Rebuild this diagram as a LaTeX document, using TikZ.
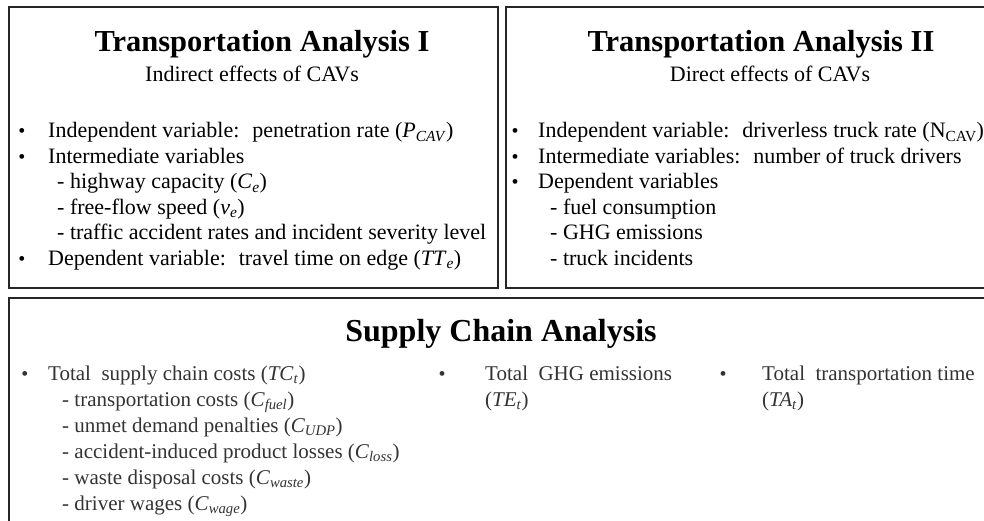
\documentclass[tikz,border=0pt]{standalone}
\usepackage{fontspec}
\setmainfont{Liberation Serif}
\begin{document}
\begin{tikzpicture}[x=1pt,y=-1pt,
  box/.style={draw=black!85, line width=1.6pt},
  ttl/.style={font=\fontsize{30.5}{36}\selectfont\bfseries, anchor=base, inner sep=0pt},
  subttl/.style={font=\fontsize{22}{26}\selectfont, anchor=base, inner sep=0pt},
  txt/.style={font=\fontsize{22}{26}\selectfont, anchor=base west, inner sep=0pt},
  btxt/.style={font=\fontsize{21}{25}\selectfont, anchor=base west, inner sep=0pt, text=black!80},
  bul/.style={font=\fontsize{20}{24}\selectfont, anchor=base, inner sep=0pt},
  bbul/.style={font=\fontsize{20}{24}\selectfont, anchor=base, inner sep=0pt, text=black!80}]
\useasboundingbox (0,0) rectangle (984,521);
\clip (0,0) rectangle (984,521);
% boxes
\draw[box] (9,7) rectangle (498,288);
\draw[box] (506,7) rectangle (1000,288);
\draw[box] (9,298) rectangle (1000,600);
% left box
\node[ttl] (t1) at (262,52) {Transportation Analysis I};
\node[subttl] (s1) at (252,82) {Indirect effects of CAVs};
\node[bul] (b11) at (22,138) {•};
\node[txt] (l11) at (48,138) {Independent variable:~ penetration rate (\textit{P}\textsubscript{\textit{CAV}})};
\node[bul] (b12) at (22,163.5) {•};
\node[txt] (l12) at (48,163.5) {Intermediate variables};
\node[txt] (l13) at (57,189) {- highway capacity (\textit{C}\textsubscript{\textit{e}})};
\node[txt] (l14) at (57,214.5) {- free-flow speed (\textit{v}\textsubscript{\textit{e}})};
\node[txt] (l15) at (57,240) {- traffic accident rates and incident severity level};
\node[bul] (b16) at (22,265.5) {•};
\node[txt] (l16) at (48,265.5) {Dependent variable:~ travel time on edge (\textit{TT}\textsubscript{\textit{e}})};
% right box
\node[ttl] (t2) at (761,52) {Transportation Analysis II};
\node[subttl] (s2) at (770,82) {Direct effects of CAVs};
\node[bul] (b21) at (515,138) {•};
\node[txt] (l21) at (538,138) {Independent variable:~ driverless truck rate (N\textsubscript{CAV})};
\node[bul] (b22) at (515,163.5) {•};
\node[txt] (l22) at (538,163.5) {Intermediate variables:~ number of truck drivers};
\node[bul] (b23) at (515,189) {•};
\node[txt] (l23) at (538,189) {Dependent variables};
\node[txt] (l24) at (550,214.5) {- fuel consumption};
\node[txt] (l25) at (550,240) {- GHG emissions};
\node[txt] (l26) at (550,265.5) {- truck incidents};
% bottom box
\node[ttl, font=\fontsize{32}{38}\selectfont\bfseries] (t3) at (501,341) {Supply Chain Analysis};
\node[bbul] (b31) at (25,380) {•};
\node[btxt] (l31) at (48,380) {Total~ supply chain costs (\textit{TC}\textsubscript{\textit{t}})};
\node[btxt] (l32) at (62,406) {- transportation costs (\textit{C}\textsubscript{\textit{fuel}})};
\node[btxt] (l33) at (62,432) {- unmet demand penalties (\textit{C}\textsubscript{\textit{UDP}})};
\node[btxt] (l34) at (62,458) {- accident-induced product losses (\textit{C}\textsubscript{\textit{loss}})};
\node[btxt] (l35) at (62,484) {- waste disposal costs (\textit{C}\textsubscript{\textit{waste}})};
\node[btxt] (l36) at (62,510) {- driver wages (\textit{C}\textsubscript{\textit{wage}})};
\node[bbul] (b41) at (442,380) {•};
\node[btxt] (l41) at (485,380) {Total~ GHG emissions};
\node[btxt] (l42) at (485,406) {(\textit{TE}\textsubscript{\textit{t}})};
\node[bbul] (b51) at (723,380) {•};
\node[btxt] (l51) at (762,380) {Total~ transportation time};
\node[btxt] (l52) at (762,406) {(\textit{TA}\textsubscript{\textit{t}})};
\end{tikzpicture}
\end{document}
